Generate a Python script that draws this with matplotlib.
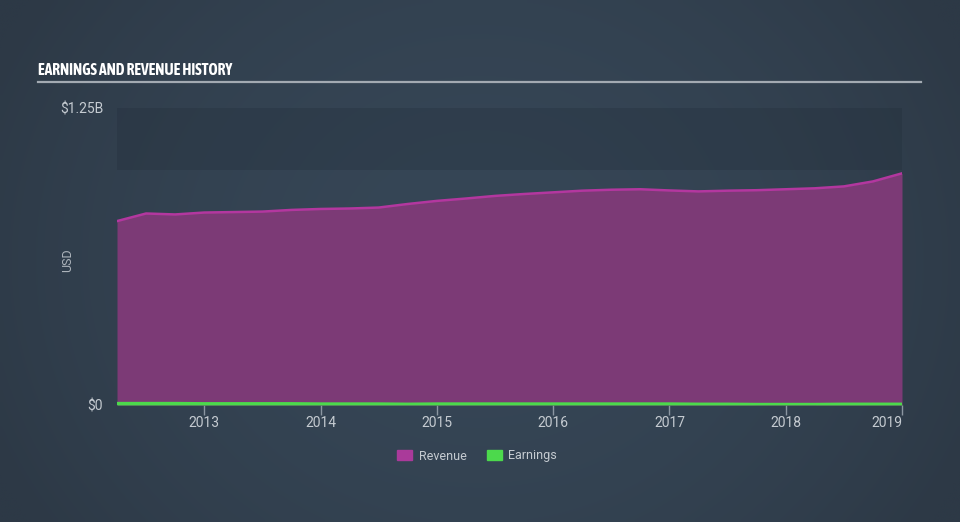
import numpy as np
import matplotlib
matplotlib.use("Agg")
import matplotlib.pyplot as plt
from matplotlib.patches import Patch
from matplotlib import font_manager as fm

# ---- data ----
dates = [2012.25 + 0.25 * i for i in range(28)]
revenue = [0.774, 0.806, 0.802, 0.810, 0.812, 0.814, 0.821, 0.825, 0.827, 0.831,
           0.846, 0.859, 0.869, 0.880, 0.888, 0.895, 0.902, 0.906, 0.908, 0.903,
           0.899, 0.902, 0.904, 0.908, 0.912, 0.920, 0.941, 0.975]
earnings = [0.006, 0.006, 0.006, 0.005, 0.005, 0.005, 0.005, 0.004, 0.004, 0.004,
            0.003, 0.004, 0.004, 0.004, 0.004, 0.004, 0.004, 0.004, 0.004, 0.004,
            0.003, 0.003, 0.002, 0.002, 0.002, 0.003, 0.003, 0.003]
years = [2013, 2014, 2015, 2016, 2017, 2018, 2019]
ytick_vals = [0, 1.25]
ytick_labels = ["$0", "$1.25B"]

# find a condensed font for the title if one is installed
title_font = None
title_stretch = "normal"
for f in fm.fontManager.ttflist:
    n = f.name.lower()
    if ("narrow" in n or "condensed" in n) and f.weight in (700, "bold"):
        title_font = f.name
        break
if title_font is None:
    for f in fm.fontManager.ttflist:
        if f.stretch in ("condensed", "semi-condensed", "extra-condensed") or \
                (isinstance(f.stretch, int) and f.stretch < 500):
            title_font = f.name
            title_stretch = f.stretch
            break
if title_font is None:
    title_font = "Liberation Sans"

fig = plt.figure(figsize=(9.6, 5.22), dpi=100)

# background gradient
bg = fig.add_axes([0, 0, 1, 1], zorder=-10)
nx, ny = 200, 100
xx = np.linspace(-1, 1, nx)[None, :]
yy = np.linspace(-1, 1, ny)[:, None]
t = np.clip(1 - (0.8 * xx**2 + 0.3 * yy**2), 0, 1)
c0 = np.array([45, 57, 70]) / 255
c1 = np.array([54, 70, 86]) / 255
img = c0[None, None, :] + (c1 - c0)[None, None, :] * t[:, :, None]
bg.imshow(img, aspect="auto", extent=[0, 1, 0, 1], interpolation="bilinear")
bg.set_axis_off()

ax = fig.add_axes([117 / 960, 1 - 405 / 522, (902 - 117) / 960, (405 - 108) / 522])
ax.patch.set_alpha(0)
ax.set_xlim(2012.25, 2019.0)
ax.set_ylim(0, 1.25)

ax.axhspan(0.99, 1.25, color="#1f2a36", alpha=0.25, lw=0, zorder=0)

ax.fill_between(dates, 0, revenue, color="#7c3a76", lw=0, zorder=2)
ax.plot(dates, revenue, color="#b3379f", lw=1.8, zorder=3)
ax.fill_between(dates, 0, earnings, color="#4cd94c", lw=0, zorder=4)
ax.plot(dates, earnings, color="#4cd94c", lw=2.5, zorder=5, solid_capstyle="butt")

for s in ax.spines.values():
    s.set_visible(False)

ax.set_xticks(years)
ax.set_xticklabels([str(y) for y in years], fontsize=10, color="#c5cbd1", family="Roboto")
labels = ax.get_xticklabels()
labels[-1].set_horizontalalignment("right")
ax.tick_params(axis="x", length=7, width=1, color="#8b96a1", pad=1)

ax.set_yticks(ytick_vals)
ax.set_yticklabels(ytick_labels, fontsize=10, color="#c5cbd1", family="Roboto")
ax.tick_params(axis="y", length=0, pad=10)

fig.text(68 / 960, 1 - 260 / 522, "USD", rotation=90, fontsize=9, color="#aeb5bc",
         family="Roboto", ha="center", va="center")

ttl = fig.text(38 / 960, 1 - 75 / 522, "EARNINGS AND REVENUE HISTORY", fontsize=14,
               fontweight="bold", color="#ffffff", family=title_font,
               fontstretch=title_stretch, ha="left", va="baseline")
fig.add_artist(plt.Line2D([38 / 960, 921 / 960], [1 - 81.5 / 522, 1 - 81.5 / 522],
                          color="#a3aab2", lw=1.6))

# shrink title to about the reference width if the font is too wide
fig.canvas.draw()
bb = ttl.get_window_extent()
target = 196.0
if bb.width > target:
    ttl.set_fontsize(14 * target / bb.width)

handles = [Patch(color="#aa3a9a", label="Revenue"), Patch(color="#4cd94c", label="Earnings")]
leg = fig.legend(handles=handles, loc="center", bbox_to_anchor=(477 / 960, 1 - 456 / 522),
                 ncol=2, frameon=False, fontsize=9, handlelength=1.2, handleheight=0.9,
                 columnspacing=1.6, handletextpad=0.5)
for txt in leg.get_texts():
    txt.set_color("#c5cbd1")
    txt.set_family("Roboto")

fig.savefig("out.png", dpi=100)
